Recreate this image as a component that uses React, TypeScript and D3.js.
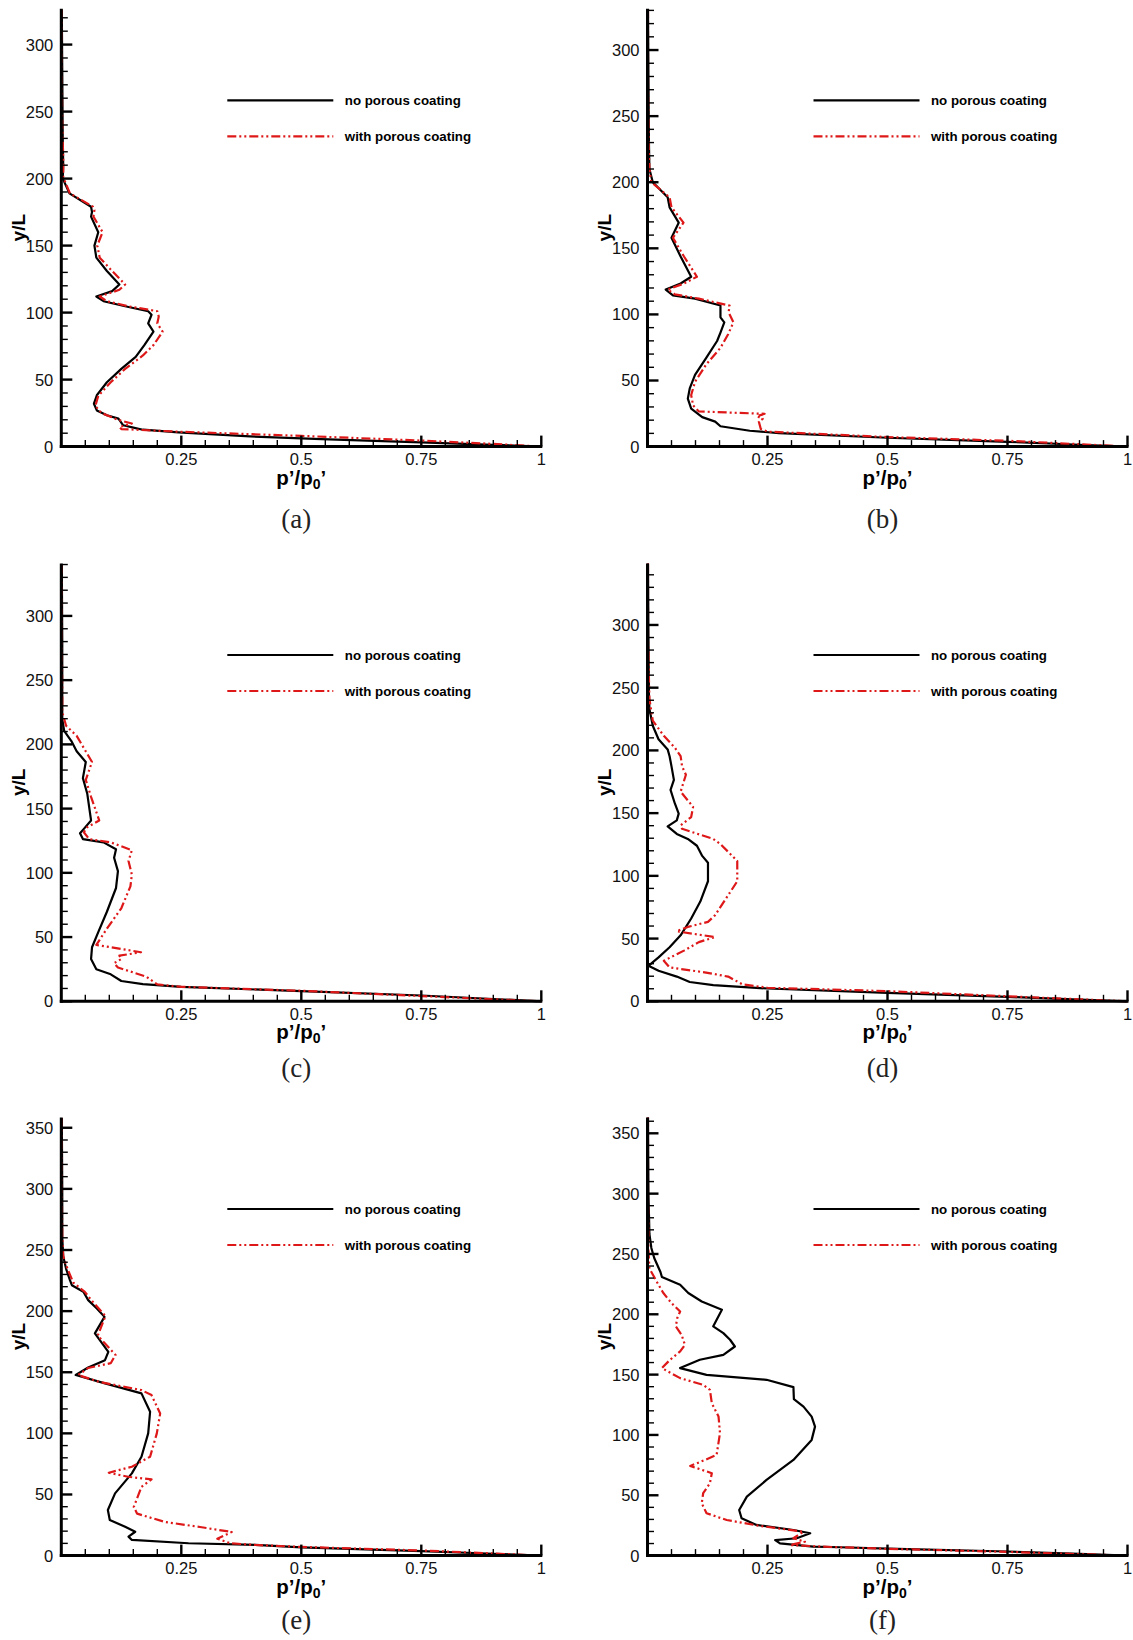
import React from 'react';
import * as d3 from 'd3';

type Pt = [number, number]; // [p'/p0', y/L]

// ---- data (p'/p0', y/L), ordered from the top of each profile ----
const noCoatingA: Pt[] = [
  [0.001, 326], [0.002, 280], [0.003, 230], [0.004, 210], [0.003, 200], [0.017, 189], [0.062, 179],
  [0.064, 175], [0.062, 171.6], [0.077, 160], [0.069, 150], [0.073, 141], [0.095, 131], [0.121, 121],
  [0.106, 116], [0.073, 112], [0.088, 108.5], [0.133, 104.7], [0.181, 101], [0.188, 98.4], [0.181, 92],
  [0.192, 85.8], [0.173, 75.7], [0.155, 66.9], [0.125, 58], [0.095, 48], [0.074, 38.3], [0.068, 32],
  [0.074, 27], [0.095, 23.4], [0.119, 20.9], [0.129, 15.9], [0.15, 14.2], [0.17, 12.6], [0.244, 10.6],
  [0.393, 7.6], [0.542, 5.6], [0.765, 3], [0.9, 1.3], [1, 0],
];
const withCoatingA: Pt[] = [
  [0.001, 326], [0.001, 280], [0.002, 240], [0.004, 215], [0.004, 201], [0.018, 189], [0.066, 179],
  [0.069, 176.6], [0.067, 171.6], [0.086, 160], [0.075, 150], [0.08, 141], [0.106, 131], [0.133, 121],
  [0.121, 117], [0.08, 112], [0.095, 108.5], [0.14, 104.7], [0.2, 101], [0.203, 97], [0.2, 92],
  [0.211, 85.8], [0.192, 75.7], [0.17, 68], [0.133, 58], [0.103, 48], [0.077, 37.9], [0.071, 30.3],
  [0.084, 25], [0.118, 20], [0.147, 17.2], [0.121, 14.6], [0.125, 13.1], [0.244, 11.1], [0.5, 8],
  [0.75, 4.5], [0.9, 2], [1, 0],
];

const noCoatingB: Pt[] = [
  [0.001, 331], [0.002, 280], [0.003, 230], [0.004, 210], [0.011, 200], [0.042, 188.6], [0.046, 181],
  [0.065, 169.4], [0.05, 158], [0.069, 143.8], [0.091, 128.5], [0.069, 123.4], [0.038, 118.8],
  [0.053, 114.4], [0.099, 111.9], [0.152, 106.7], [0.152, 97.8], [0.16, 94], [0.152, 86.3], [0.145, 79.9],
  [0.122, 67], [0.099, 54.3], [0.088, 44], [0.084, 36.3], [0.091, 28.7], [0.114, 22.3], [0.141, 18.9],
  [0.152, 15.4], [0.213, 12], [0.274, 10.2], [0.5, 6.7], [0.75, 3.6], [0.9, 1.4], [1, 0],
];
const withCoatingB: Pt[] = [
  [0.001, 331], [0.001, 280], [0.002, 230], [0.004, 210], [0.008, 200], [0.046, 188.6], [0.05, 181],
  [0.075, 169.4], [0.053, 158], [0.076, 143.8], [0.103, 128.5], [0.076, 123.4], [0.042, 118.8],
  [0.057, 115.2], [0.107, 111.9], [0.171, 106.7], [0.169, 101.6], [0.179, 94], [0.168, 85], [0.152, 74.7],
  [0.122, 62], [0.099, 49], [0.091, 39], [0.095, 31.2], [0.107, 26.6], [0.244, 24.8], [0.228, 23],
  [0.24, 21], [0.232, 18.9], [0.236, 13.3], [0.251, 11.3], [0.5, 7.2], [0.75, 4.4], [0.9, 1.8], [1, 0],
];

const noCoatingC: Pt[] = [
  [0.001, 340], [0.002, 280], [0.002, 230], [0.002, 219.7], [0.006, 210.5], [0.021, 202.6], [0.032, 194.7],
  [0.051, 186.3], [0.045, 173.7], [0.054, 161.8], [0.062, 140.8], [0.047, 134.2], [0.039, 130.8],
  [0.045, 126.3], [0.088, 123.7], [0.114, 118.4], [0.11, 111.8], [0.118, 101.3], [0.114, 88.2],
  [0.095, 69.7], [0.077, 53.9], [0.064, 42.1], [0.062, 32.9], [0.073, 25], [0.103, 21], [0.125, 15.8],
  [0.17, 13.4], [0.25, 11.3], [0.5, 7.9], [0.75, 4.5], [0.9, 1.8], [1, 0],
];
const withCoatingC: Pt[] = [
  [0.001, 340], [0.001, 280], [0.002, 240], [0.002, 225], [0.01, 214.5], [0.032, 206.6], [0.064, 186.3],
  [0.051, 172.4], [0.062, 159.2], [0.079, 140.8], [0.054, 135.5], [0.047, 131.6], [0.058, 126.3],
  [0.103, 123.7], [0.147, 117.6], [0.14, 109.2], [0.147, 98.7], [0.144, 89.5], [0.125, 72.4], [0.095, 56.6],
  [0.073, 43.9], [0.166, 38.2], [0.121, 35.5], [0.125, 32.9], [0.11, 29.7], [0.118, 26.3], [0.177, 19.2],
  [0.2, 13.2], [0.25, 11.3], [0.5, 8.2], [0.75, 4.1], [0.9, 1.6], [1, 0],
];

const noCoatingD: Pt[] = [
  [0.001, 349], [0.002, 290], [0.003, 245], [0.004, 233], [0.011, 219.7], [0.023, 208.9], [0.042, 200.8],
  [0.046, 195.4], [0.05, 187.3], [0.055, 176.5], [0.048, 168.5], [0.057, 157.7], [0.065, 149.6],
  [0.061, 144.2], [0.042, 139.4], [0.061, 133.4], [0.084, 129.4], [0.103, 124], [0.114, 115.9],
  [0.126, 110.5], [0.126, 95.7], [0.11, 79.5], [0.091, 66], [0.069, 52.6], [0.046, 43.1], [0.023, 35],
  [0.002, 28.3], [0.023, 24.3], [0.061, 19.7], [0.088, 15.4], [0.137, 12.9], [0.25, 10.2], [0.5, 6.7],
  [0.75, 3.5], [0.9, 1.4], [1, 0],
];
const withCoatingD: Pt[] = [
  [0.001, 349], [0.001, 290], [0.004, 241], [0.011, 223.7], [0.034, 211.6], [0.057, 202.2], [0.069, 195.4],
  [0.072, 187.3], [0.08, 180.6], [0.069, 167.1], [0.095, 155], [0.091, 146.9], [0.069, 140.2],
  [0.072, 137.5], [0.137, 129.4], [0.152, 125.3], [0.187, 111.9], [0.187, 95.7], [0.164, 82.2],
  [0.141, 68.7], [0.126, 63.3], [0.084, 59.3], [0.061, 55.8], [0.141, 51.2], [0.107, 47.2], [0.076, 40.4],
  [0.034, 32.3], [0.046, 27], [0.122, 22.9], [0.168, 19.7], [0.198, 13.5], [0.25, 10.8], [0.5, 8.1],
  [0.75, 4], [0.9, 1.6], [1, 0],
];

const noCoatingE: Pt[] = [
  [0.001, 358], [0.002, 300], [0.002, 260], [0.004, 245], [0.01, 234.6], [0.018, 225.3], [0.022, 221.2],
  [0.046, 215.8], [0.056, 209], [0.074, 202.2], [0.09, 195.3], [0.07, 181.8], [0.098, 166.7],
  [0.091, 159.9], [0.056, 153.9], [0.03, 147.7], [0.091, 140.9], [0.167, 132.7], [0.185, 117.7],
  [0.181, 100], [0.167, 80.9], [0.147, 67.3], [0.112, 50.9], [0.097, 37.3], [0.101, 29.1], [0.133, 23.6],
  [0.154, 19.5], [0.14, 15.5], [0.147, 12.8], [0.265, 10.1], [0.404, 8.7], [0.5, 6.8], [0.75, 3.7],
  [0.9, 1.5], [1, 0],
];
const withCoatingE: Pt[] = [
  [0.001, 358], [0.001, 300], [0.002, 260], [0.004, 245], [0.013, 234.6], [0.025, 223.3], [0.049, 215.8],
  [0.062, 209.2], [0.092, 196], [0.076, 180], [0.113, 164.2], [0.103, 157.4], [0.056, 153.5],
  [0.035, 147.7], [0.08, 142], [0.167, 135.4], [0.188, 131.3], [0.206, 116.3], [0.199, 100], [0.185, 80.9],
  [0.147, 72.7], [0.099, 67.8], [0.139, 64.5], [0.188, 62.3], [0.167, 56.2], [0.151, 39.8], [0.158, 34.3],
  [0.216, 27.5], [0.289, 23.4], [0.355, 19.3], [0.325, 13.8], [0.352, 10.1], [0.404, 8.7], [0.5, 7.1],
  [0.75, 4.2], [0.9, 1.7], [1, 0],
];

const noCoatingF: Pt[] = [
  [0.001, 363], [0.002, 300], [0.004, 266.6], [0.008, 255], [0.014, 246.6], [0.027, 235], [0.03, 230.9],
  [0.068, 224.5], [0.085, 217.6], [0.113, 210.6], [0.155, 203.8], [0.137, 190], [0.158, 184.4],
  [0.172, 178.9], [0.182, 173.3], [0.158, 166.4], [0.109, 162.3], [0.068, 155.4], [0.123, 149.8],
  [0.248, 145.7], [0.304, 139.6], [0.305, 129.7], [0.325, 123.5], [0.342, 115.2], [0.349, 106.9],
  [0.342, 95.9], [0.304, 79.3], [0.248, 62.7], [0.207, 48.9], [0.191, 37.8], [0.196, 30.9], [0.227, 25.4],
  [0.304, 21.2], [0.339, 18.5], [0.311, 14.4], [0.266, 12.9], [0.276, 10.2], [0.345, 7.4], [0.401, 6.9],
  [0.5, 5.8], [0.75, 3.4], [0.9, 1.4], [1, 0],
];
const withCoatingF: Pt[] = [
  [0.001, 363], [0.001, 300], [0.002, 252.3], [0.004, 238], [0.019, 227.2], [0.033, 217.6], [0.05, 209.3],
  [0.068, 202.3], [0.062, 196.9], [0.059, 190], [0.071, 183], [0.078, 174.7], [0.068, 169.2],
  [0.047, 162.3], [0.03, 155.4], [0.068, 147.1], [0.116, 141.5], [0.13, 137.4], [0.134, 126.3],
  [0.148, 115.2], [0.151, 101.5], [0.144, 83.5], [0.12, 79.3], [0.089, 74.3], [0.134, 68.3], [0.13, 60],
  [0.116, 51.7], [0.113, 43.4], [0.123, 35.1], [0.165, 29.5], [0.234, 24.6], [0.325, 19.8], [0.304, 14.4],
  [0.328, 11.5], [0.297, 8.8], [0.366, 7.4], [0.5, 5.6], [0.75, 3.1], [0.9, 1.2], [1, 0],
];

const panelLetters = ['a', 'b', 'c', 'd', 'e', 'f'];
const panelYMax = [326.7, 331.2, 340.8, 349, 358.4, 363.1];
const yMajorTicks300 = [0, 50, 100, 150, 200, 250, 300];
const yMajorTicks350 = [0, 50, 100, 150, 200, 250, 300, 350];
const xMajorTicks = [0.25, 0.5, 0.75, 1];
const legendLabels = ['no porous coating', 'with porous coating'];

const panels = [
  { noCoat: noCoatingA, withCoat: withCoatingA, yTicks: yMajorTicks300 },
  { noCoat: noCoatingB, withCoat: withCoatingB, yTicks: yMajorTicks300 },
  { noCoat: noCoatingC, withCoat: withCoatingC, yTicks: yMajorTicks300 },
  { noCoat: noCoatingD, withCoat: withCoatingD, yTicks: yMajorTicks300 },
  { noCoat: noCoatingE, withCoat: withCoatingE, yTicks: yMajorTicks350 },
  { noCoat: noCoatingF, withCoat: withCoatingF, yTicks: yMajorTicks350 },
];

// ---- layout ----
const colX = [61.3, 647.5];
const rowTop = [8.8, 563.5, 1117.5];
const rowBottom = [446.6, 1001.3, 1555.6];
const rowCaption = [528, 1077, 1629];
const plotW = 480;
const RED = 'rgb(222,24,24)';
const SANS = '"Liberation Sans", Arial, Helvetica, sans-serif';

const Panel = ({ i }: { i: number }) => {
  const col = i % 2;
  const row = Math.floor(i / 2);
  const ox = colX[col];
  const top = rowTop[row];
  const bottom = rowBottom[row];
  const yMax = panelYMax[i];
  const { noCoat, withCoat, yTicks } = panels[i];

  const x = d3.scaleLinear().domain([0, 1]).range([ox, ox + plotW]);
  const y = d3.scaleLinear().domain([0, yMax]).range([bottom, top]);
  const line = d3.line<Pt>().x(d => x(d[0])).y(d => y(d[1]));

  const yMinor = d3.range(0, Math.floor(yMax / 10) + 1).map(k => k * 10).filter(v => v % 50 !== 0);
  const xMinor = d3.range(1, 20).map(k => k * 0.05).filter(v => Math.abs(v * 4 - Math.round(v * 4)) > 1e-6);
  const midY = (top + bottom) / 2;

  return (
    <g>
      {/* curves */}
      <path d={line(noCoat) || ''} fill="none" stroke="#000" strokeWidth={2.2} strokeLinejoin="round" />
      <path d={line(withCoat) || ''} fill="none" stroke={RED} strokeWidth={2.2}
        strokeDasharray="9,3,2,3,2,3" strokeLinejoin="round" />

      {/* minor / major ticks, pointing into the plot */}
      {yMinor.map(v => (
        <line key={'ym' + v} x1={ox} x2={ox + 6.5} y1={y(v)} y2={y(v)} stroke="#000" strokeWidth={1.4} />
      ))}
      {yTicks.map(v => (
        <line key={'yM' + v} x1={ox} x2={ox + 11} y1={y(v)} y2={y(v)} stroke="#000" strokeWidth={2.4} />
      ))}
      {xMinor.map(v => (
        <line key={'xm' + v} x1={x(v)} x2={x(v)} y1={bottom} y2={bottom - 6.5} stroke="#000" strokeWidth={1.4} />
      ))}
      {xMajorTicks.map(v => (
        <line key={'xM' + v} x1={x(v)} x2={x(v)} y1={bottom} y2={bottom - 11} stroke="#000" strokeWidth={2.4} />
      ))}
      {/* axis lines */}
      <line x1={ox} x2={ox} y1={top} y2={bottom + 1.5} stroke="#000" strokeWidth={3} />
      <line x1={ox - 1.5} x2={x(1) + 1} y1={bottom} y2={bottom} stroke="#000" strokeWidth={3} />

      {/* tick labels */}
      {yTicks.map(v => (
        <text key={'yl' + v} x={ox - 8} y={y(v)} dy="0.36em" textAnchor="end"
          fontFamily={SANS} fontSize={16.5} fill="#111">{v}</text>
      ))}
      {xMajorTicks.map(v => (
        <text key={'xl' + v} x={x(v)} y={bottom + 18.5} textAnchor="middle"
          fontFamily={SANS} fontSize={16.5} fill="#111">{String(v)}</text>
      ))}

      {/* axis titles */}
      <text transform={`translate(${ox - 43},${midY}) rotate(-90)`} textAnchor="middle" dy="0.36em"
        fontFamily={SANS} fontSize={19} fontWeight="bold">y/L</text>
      <text x={x(0.5)} y={bottom + 38} textAnchor="middle" fontFamily={SANS} fontSize={20.5} fontWeight="bold">
        p’/p<tspan fontSize={14} dy={4}>0</tspan><tspan dy={-4}>’</tspan>
      </text>

      {/* legend */}
      <line x1={ox + 166} x2={ox + 272} y1={top + 91.5} y2={top + 91.5} stroke="#000" strokeWidth={2.2} />
      <line x1={ox + 166} x2={ox + 272} y1={top + 127.5} y2={top + 127.5} stroke={RED} strokeWidth={2.2}
        strokeDasharray="9,3,2,3,2,3" />
      <text x={ox + 283.5} y={top + 96} fontFamily={SANS} fontSize={13.3} fontWeight="bold">{legendLabels[0]}</text>
      <text x={ox + 283.5} y={top + 132} fontFamily={SANS} fontSize={13.3} fontWeight="bold">{legendLabels[1]}</text>

      {/* caption */}
      <text x={ox + 235} y={rowCaption[row]} textAnchor="middle" fontFamily='"Liberation Serif", "Times New Roman", serif'
        fontSize={27} fill="#222">({panelLetters[i]})</text>
    </g>
  );
};

export default function App() {
  return (
    <svg width={1133} height={1640} style={{ position: 'absolute', left: 0, top: 0, background: '#fff' }}>
      <rect x={0} y={0} width={1133} height={1640} fill="#fff" />
      {panels.map((_, i) => <Panel key={i} i={i} />)}
    </svg>
  );
}
